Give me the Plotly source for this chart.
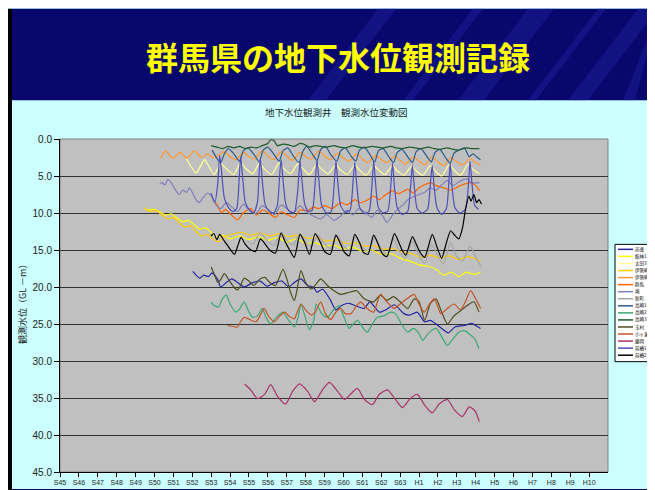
import plotly.graph_objects as go

# ---------------- data (decimal year, depth GL -m) ----------------
year_ticks = list(range(1970, 1999))
tick_labels = ["S45", "S46", "S47", "S48", "S49", "S50", "S51", "S52", "S53", "S54",
               "S55", "S56", "S57", "S58", "S59", "S60", "S61", "S62", "S63",
               "H1", "H2", "H3", "H4", "H5", "H6", "H7", "H8", "H9", "H10"]

series_names = ["邑楽", "館林1号", "太田3号", "伊勢崎1号", "伊勢崎2号", "群馬", "境", "新町",
                "高崎1号", "高崎2号", "高崎3号", "玉村", "小ヶ瀬", "藤岡", "前橋1号", "前橋2号"]
series_colors = ["#2525A0", "#FFFF00", "#FFFF99", "#FFCC00", "#FF9933", "#FF6600", "#8080B8", "#A6A6A6",
                 "#2E5C8A", "#3DA876", "#1E5C2E", "#4D4D1F", "#C0562A", "#A83368", "#4F4FB8", "#000000"]

t_ora = [1977.03, 1977.2, 1977.4, 1977.6, 1977.85, 1978.05, 1978.35, 1978.5, 1978.8, 1979.1, 1979.4, 1979.75,
         1980.2, 1980.6, 1980.95, 1981.35, 1981.75, 1982.1, 1982.4, 1982.75, 1983.1, 1983.4, 1983.6, 1983.9,
         1984.3, 1984.6, 1984.9, 1985.3, 1985.7, 1986.1, 1986.4, 1986.9, 1987.3, 1987.7, 1988.2, 1988.5,
         1988.9, 1989.3, 1989.6, 1990.3, 1990.55, 1990.9, 1991.4, 1991.8, 1992.0, 1992.25]
v_ora = [17.9, 18.4, 18.8, 18.4, 18.6, 18.1, 19.0, 20.0, 19.4, 18.9, 19.4, 20.0,
         19.4, 19.2, 19.9, 19.4, 19.2, 20.0, 19.4, 18.9, 19.8, 20.0, 20.7, 20.3,
         21.7, 23.1, 22.5, 22.2, 22.6, 22.9, 22.0, 23.4, 23.0, 22.4, 23.6, 23.8,
         23.4, 24.7, 24.5, 25.8, 26.2, 25.4, 25.2, 24.9, 25.2, 25.6]

t_tate1 = [1974.45, 1974.7, 1975.0, 1975.3, 1975.6, 1975.9, 1976.2, 1976.5, 1976.8, 1977.1, 1977.4, 1977.7,
           1978.0, 1978.3, 1978.6, 1979.0, 1979.5, 1980.0, 1980.5, 1981.0, 1981.5, 1982.0, 1982.5, 1983.0,
           1983.5, 1984.0, 1984.5, 1985.0, 1985.5, 1986.0, 1986.5, 1987.0, 1987.5, 1988.0, 1988.5, 1989.0,
           1989.5, 1989.9, 1990.3, 1990.7, 1991.1, 1991.5, 1991.9, 1992.25]
v_tate1 = [9.4, 9.6, 9.5, 9.9, 10.3, 10.1, 10.7, 11.2, 11.0, 11.6, 12.2, 12.0,
           12.6, 13.3, 13.0, 13.5, 13.1, 13.6, 13.2, 13.7, 13.3, 13.9, 13.5, 14.1,
           14.0, 14.5, 14.3, 14.9, 14.6, 15.2, 15.0, 15.6, 15.5, 16.1, 16.5, 17.0,
           17.2, 17.6, 18.4, 18.0, 18.6, 18.0, 18.3, 18.0]

t_ota3 = [1976.67, 1976.9, 1977.2, 1977.45, 1977.65, 1977.9, 1978.17, 1978.5, 1978.75, 1979.2, 1979.55, 1979.8,
          1980.2, 1980.55, 1980.8, 1981.2, 1981.6, 1981.85, 1982.2, 1982.6, 1982.85, 1983.2, 1983.6, 1983.85,
          1984.2, 1984.6, 1984.85, 1985.2, 1985.6, 1985.85, 1986.2, 1986.6, 1986.85, 1987.2, 1987.6, 1987.85,
          1988.2, 1988.6, 1988.85, 1989.2, 1989.6, 1989.85, 1990.2, 1990.6, 1990.85, 1991.2, 1991.6, 1991.85, 1992.2]
v_ota3 = [2.6, 3.6, 4.6, 3.6, 2.8, 3.8, 4.8, 3.3, 3.9, 4.8, 3.2, 3.9,
          4.7, 3.3, 4.0, 4.8, 3.2, 4.0, 4.7, 3.3, 4.0, 4.8, 3.4, 4.1,
          4.7, 3.5, 4.2, 4.8, 3.5, 4.2, 4.9, 3.6, 4.2, 4.8, 3.6, 4.3,
          4.9, 3.7, 4.3, 4.9, 3.6, 4.3, 5.0, 3.5, 4.2, 4.9, 3.4, 4.1, 4.7]

t_ise1 = [1974.45, 1974.75, 1975.1, 1975.4, 1975.7, 1976.0, 1976.3, 1976.6, 1976.9, 1977.2, 1977.5, 1977.8,
          1978.1, 1978.4, 1978.7, 1979.1, 1979.6, 1980.1, 1980.6, 1981.1, 1981.6, 1982.1, 1982.6, 1983.1,
          1983.6, 1984.1, 1984.6, 1985.1, 1985.6, 1986.1, 1986.6, 1987.1, 1987.6, 1988.1, 1988.6, 1989.1,
          1989.6, 1990.1, 1990.6, 1991.1, 1991.6, 1992.25]
v_ise1 = [9.3, 9.8, 9.7, 10.3, 10.8, 10.6, 11.3, 11.9, 11.7, 12.5, 13.1, 12.9,
          13.5, 13.9, 13.2, 12.9, 12.6, 13.0, 12.7, 13.1, 12.8, 13.2, 13.0, 13.4,
          13.3, 13.8, 13.6, 14.1, 14.0, 14.5, 14.4, 14.9, 14.8, 15.3, 15.5, 16.0,
          15.7, 16.1, 15.8, 16.3, 15.9, 16.5]

t_ise2 = [1975.3, 1975.6, 1975.85, 1976.0, 1976.35, 1976.7, 1977.1, 1977.5, 1977.8, 1978.1, 1978.4, 1978.7,
          1979.0, 1979.3, 1979.7, 1980.0, 1980.3, 1980.7, 1981.0, 1981.3, 1981.7, 1982.0, 1982.3, 1982.7,
          1983.0, 1983.3, 1983.7, 1984.0, 1984.3, 1984.7, 1985.0, 1985.3, 1985.7, 1986.0, 1986.3, 1986.7,
          1987.0, 1987.3, 1987.7, 1988.0, 1988.3, 1988.7, 1989.0, 1989.3, 1989.7, 1990.0, 1990.3, 1990.7,
          1991.0, 1991.3, 1991.7, 1992.0, 1992.25]
v_ise2 = [2.6, 1.6, 2.4, 2.6, 1.8, 2.6, 1.6, 2.5, 2.0, 2.5, 2.2, 1.7,
          2.4, 2.8, 1.8, 2.4, 2.7, 1.6, 2.3, 2.8, 1.7, 2.3, 2.9, 1.8,
          2.4, 2.7, 1.6, 2.3, 2.8, 1.9, 2.6, 3.0, 2.0, 2.7, 3.2, 2.2,
          2.8, 3.2, 2.3, 2.9, 3.4, 2.4, 3.0, 3.5, 2.4, 3.1, 3.6, 2.5,
          3.1, 3.5, 2.6, 3.2, 3.5]

t_gunma = [1978.1, 1978.3, 1978.55, 1978.75, 1979.0, 1979.4, 1979.7, 1980.1, 1980.4, 1980.7, 1981.0, 1981.4,
           1981.7, 1982.0, 1982.4, 1982.7, 1983.1, 1983.4, 1983.7, 1984.0, 1984.4, 1984.85, 1985.2, 1985.6,
           1985.9, 1986.3, 1986.6, 1986.9, 1987.2, 1987.6, 1987.9, 1988.4, 1988.7, 1989.0, 1989.6, 1989.9,
           1990.3, 1990.7, 1991.1, 1991.7, 1992.0, 1992.2]
v_gunma = [8.3, 8.8, 10.0, 9.5, 10.1, 10.9, 10.0, 9.4, 10.3, 9.6, 9.9, 10.6,
           9.8, 10.2, 10.6, 9.6, 9.7, 9.2, 9.4, 9.0, 9.4, 8.6, 8.9, 8.2,
           8.6, 8.2, 7.7, 8.2, 7.6, 7.0, 7.4, 6.8, 7.3, 6.6, 5.9, 6.3,
           6.6, 6.9, 6.4, 5.9, 6.3, 7.0]

t_sakai = [1975.27, 1975.4, 1975.55, 1975.7, 1975.85, 1976.0, 1976.3, 1976.5, 1976.7, 1976.85, 1977.2, 1977.35,
           1977.55, 1977.8, 1978.0, 1978.2, 1978.5, 1978.8, 1979.1, 1979.4, 1979.7, 1980.0, 1980.35, 1980.7,
           1981.0, 1981.35, 1981.7, 1982.0, 1982.35, 1982.7, 1983.0, 1983.4, 1983.8, 1984.1, 1984.5, 1984.85,
           1985.2, 1985.5, 1985.8, 1986.2, 1986.5, 1986.8, 1987.1, 1987.3, 1987.6, 1987.9, 1988.2, 1988.4,
           1988.7, 1989.0, 1989.3, 1989.6, 1989.9, 1990.2, 1990.5, 1990.8, 1991.1, 1991.5, 1991.8, 1992.2]
v_sakai = [6.1, 5.9, 6.2, 5.5, 5.8, 6.4, 7.5, 6.9, 7.2, 6.6, 8.2, 8.6,
           8.0, 7.3, 7.7, 8.7, 9.4, 8.6, 9.2, 9.8, 8.8, 9.6, 10.1, 9.0,
           9.5, 10.2, 8.9, 9.4, 10.0, 9.0, 9.8, 10.4, 10.8, 10.2, 11.0, 10.4,
           9.6, 10.3, 9.4, 10.0, 10.6, 9.6, 10.5, 11.3, 10.3, 9.4, 8.8, 8.2,
           7.8, 7.5, 7.2, 6.6, 6.9, 6.2, 5.6, 6.3, 5.8, 5.4, 5.9, 5.9]

t_shinmachi = [1979.9, 1980.2, 1980.6, 1980.9, 1981.3, 1981.7, 1982.0, 1982.35, 1982.7, 1983.0, 1983.3, 1983.65,
               1984.0, 1984.3, 1984.65, 1985.0, 1985.3, 1985.65, 1986.0, 1986.3, 1986.65, 1987.0, 1987.3, 1987.65,
               1987.9, 1988.25, 1988.65, 1988.95, 1989.3, 1989.65, 1990.0, 1990.3, 1990.65, 1991.0, 1991.3, 1991.7,
               1992.0, 1992.3]
v_shinmachi = [13.8, 14.2, 12.7, 13.6, 14.4, 12.6, 13.7, 14.3, 12.8, 13.9, 14.6, 13.0,
               14.2, 14.8, 13.0, 14.4, 15.0, 13.2, 14.6, 15.2, 13.3, 14.8, 15.8, 13.5,
               14.9, 16.2, 13.8, 15.5, 16.8, 14.2, 15.8, 16.9, 14.0, 15.9, 16.5, 14.5,
               16.0, 17.3]

t_taka1 = [1978.05, 1978.3, 1978.5, 1978.7, 1978.9, 1979.2, 1979.5, 1979.7, 1979.95, 1980.3, 1980.55, 1980.75,
           1981.0, 1981.3, 1981.6, 1981.8, 1982.05, 1982.35, 1982.65, 1982.85, 1983.05, 1983.35, 1983.6, 1983.8,
           1984.05, 1984.35, 1984.65, 1984.85, 1985.1, 1985.4, 1985.65, 1985.85, 1986.1, 1986.4, 1986.65, 1986.85,
           1987.1, 1987.4, 1987.65, 1987.85, 1988.1, 1988.4, 1988.65, 1988.85, 1989.1, 1989.4, 1989.65, 1989.85,
           1990.1, 1990.4, 1990.65, 1990.85, 1991.1, 1991.4, 1991.65, 1991.85, 1992.05, 1992.25]
v_taka1 = [1.5, 2.6, 3.2, 2.0, 1.3, 2.0, 3.0, 1.6, 1.2, 2.2, 3.1, 1.5,
           1.1, 2.0, 3.0, 1.6, 1.2, 2.3, 3.2, 1.7, 1.0, 2.0, 2.9, 1.4,
           1.0, 2.2, 3.0, 1.6, 1.2, 2.3, 3.0, 1.5, 1.1, 2.1, 3.1, 1.6,
           1.3, 2.4, 3.2, 1.8, 1.4, 2.4, 3.2, 1.7, 1.3, 2.3, 3.1, 1.8,
           1.4, 2.5, 3.3, 1.9, 1.5, 1.2, 2.4, 2.0, 2.4, 2.8]

t_taka2 = [1978.0, 1978.15, 1978.4, 1978.55, 1978.8, 1979.0, 1979.3, 1979.5, 1979.75, 1980.0, 1980.2, 1980.45,
           1980.7, 1980.9, 1981.15, 1981.45, 1981.8, 1982.05, 1982.4, 1982.6, 1982.75, 1983.0, 1983.2, 1983.45,
           1983.55, 1983.85, 1984.15, 1984.5, 1984.77, 1985.0, 1985.3, 1985.55, 1985.75, 1986.05, 1986.27, 1986.55,
           1986.8, 1987.15, 1987.5, 1987.75, 1988.05, 1988.4, 1988.7, 1988.95, 1989.2, 1989.55, 1989.9, 1990.15,
           1990.5, 1990.8, 1991.1, 1991.4, 1991.73, 1991.95, 1992.17]
v_taka2 = [22.0, 22.5, 22.7, 21.8, 21.1, 22.3, 23.4, 23.0, 22.0, 23.4, 24.1, 23.9,
           22.9, 24.1, 25.0, 24.1, 23.4, 24.3, 25.4, 24.1, 22.3, 24.3, 25.8, 24.3,
           22.3, 23.6, 24.1, 23.0, 22.5, 23.9, 25.6, 24.9, 24.5, 25.6, 26.1, 24.9,
           24.1, 23.9, 23.4, 23.6, 24.9, 26.1, 25.6, 26.1, 27.2, 26.1, 25.6, 26.5,
           27.9, 27.0, 26.1, 25.9, 26.5, 27.0, 28.3]

t_taka3 = [1978.0, 1978.3, 1978.6, 1978.9, 1979.2, 1979.5, 1979.8, 1980.1, 1980.4, 1980.7, 1981.0, 1981.15,
           1981.35, 1981.5, 1981.8, 1982.1, 1982.4, 1982.7, 1982.9, 1983.2, 1983.5, 1983.8, 1984.1, 1984.5,
           1984.8, 1985.1, 1985.5, 1985.8, 1986.1, 1986.5, 1986.8, 1987.1, 1987.5, 1987.8, 1988.1, 1988.5,
           1988.8, 1989.1, 1989.5, 1989.8, 1990.1, 1990.5, 1990.8, 1991.1, 1991.5, 1991.8, 1992.2]
v_taka3 = [0.9, 1.1, 1.3, 1.0, 1.2, 1.0, 1.3, 1.1, 1.2, 0.9, 0.6, 0.1,
           0.3, 0.9, 0.7, 0.8, 1.0, 0.6, 0.7, 1.1, 0.9, 1.0, 1.1, 0.9,
           1.1, 1.2, 0.9, 1.1, 1.2, 1.0, 1.1, 1.2, 1.0, 1.2, 1.3, 1.1,
           1.2, 1.3, 1.1, 1.3, 1.4, 1.2, 1.4, 1.5, 1.2, 1.3, 1.3]

t_tamamura = [1978.0, 1978.2, 1978.35, 1978.5, 1978.7, 1978.95, 1979.2, 1979.4, 1979.55, 1979.75, 1980.0, 1980.25,
              1980.6, 1980.85, 1981.1, 1981.4, 1981.8, 1982.0, 1982.2, 1982.4, 1982.55, 1982.75, 1983.0, 1983.3,
              1983.55, 1983.8, 1984.15, 1984.5, 1984.85, 1985.2, 1985.7, 1986.1, 1986.6, 1986.95, 1987.3, 1987.65,
              1988.0, 1988.4, 1988.75, 1989.0, 1989.3, 1989.6, 1989.9, 1990.2, 1990.5, 1990.85, 1991.2, 1991.55,
              1991.9, 1992.17]
v_tamamura = [17.3, 18.5, 19.4, 19.0, 18.2, 19.1, 20.0, 20.4, 19.8, 18.8, 19.2, 19.8,
              18.9, 18.7, 19.4, 19.8, 17.6, 18.9, 20.7, 21.8, 20.3, 17.8, 19.4, 20.3,
              19.6, 18.9, 19.8, 20.5, 21.0, 20.8, 20.5, 21.6, 22.0, 21.1, 21.8, 21.3,
              22.0, 22.9, 21.6, 22.0, 24.5, 22.2, 21.6, 23.4, 25.0, 23.9, 23.2, 22.5,
              22.0, 23.4]

t_ogase = [1978.87, 1979.1, 1979.4, 1979.55, 1979.75, 1980.05, 1980.37, 1980.6, 1980.8, 1981.05, 1981.35, 1981.6,
           1981.9, 1982.15, 1982.4, 1982.55, 1982.75, 1983.0, 1983.3, 1983.5, 1983.8, 1984.05, 1984.33, 1984.6,
           1984.85, 1985.1, 1985.4, 1985.65, 1985.9, 1986.25, 1986.6, 1986.8, 1986.97, 1987.3, 1987.68, 1988.0,
           1988.35, 1988.74, 1989.0, 1989.27, 1989.55, 1989.8, 1990.0, 1990.15, 1990.5, 1990.85, 1991.2, 1991.45,
           1991.73, 1992.0, 1992.26]
v_ogase = [25.2, 25.3, 25.4, 24.7, 24.1, 24.4, 24.7, 23.8, 22.9, 24.0, 24.7, 24.0,
           23.4, 24.0, 24.3, 23.4, 22.3, 23.1, 23.8, 23.4, 22.0, 23.6, 24.4, 23.4,
           22.9, 23.6, 23.6, 22.7, 22.0, 22.9, 23.4, 22.0, 21.0, 22.0, 22.9, 22.3,
           21.6, 21.0, 22.3, 23.4, 22.3, 21.6, 22.7, 23.6, 22.9, 22.3, 23.1, 22.0,
           20.5, 21.6, 22.9]

t_fujioka = [1979.77, 1980.09, 1980.46, 1980.83, 1981.15, 1981.52, 1981.94, 1982.31, 1982.68, 1983.1, 1983.47, 1983.89,
             1984.26, 1984.69, 1985.06, 1985.37, 1985.74, 1986.11, 1986.53, 1986.9, 1987.33, 1987.75, 1988.12, 1988.49,
             1988.91, 1989.28, 1989.7, 1990.07, 1990.5, 1990.87, 1991.29, 1991.66, 1991.98, 1992.19]
v_fujioka = [33.1, 33.9, 35.1, 34.5, 33.2, 34.8, 35.8, 34.1, 33.1, 34.1, 35.5, 33.9,
             32.9, 34.1, 35.2, 34.5, 33.7, 35.2, 35.9, 34.5, 33.9, 35.2, 36.3, 35.2,
             34.5, 35.9, 37.0, 35.8, 35.2, 36.6, 37.5, 36.2, 36.8, 38.2]

t_mae1 = [1977.98, 1978.2, 1978.35, 1978.45, 1978.55, 1978.7, 1978.9, 1979.15, 1979.35, 1979.48, 1979.56, 1979.66,
          1979.8, 1980.0, 1980.25, 1980.45, 1980.53, 1980.6, 1980.7, 1980.85, 1981.05, 1981.3, 1981.5, 1981.62,
          1981.7, 1981.8, 1981.95, 1982.15, 1982.4, 1982.58, 1982.7, 1982.8, 1982.95, 1983.15, 1983.35, 1983.5,
          1983.6, 1983.7, 1983.85, 1984.1, 1984.35, 1984.5, 1984.6, 1984.7, 1984.85, 1985.1, 1985.35, 1985.5,
          1985.6, 1985.7, 1985.85, 1986.1, 1986.35, 1986.5, 1986.6, 1986.7, 1986.85, 1987.1, 1987.35, 1987.5,
          1987.6, 1987.7, 1987.85, 1988.1, 1988.4, 1988.55, 1988.65, 1988.75, 1988.9, 1989.15, 1989.45, 1989.6,
          1989.7, 1989.8, 1989.95, 1990.2, 1990.45, 1990.57, 1990.65, 1990.75, 1990.9, 1991.15, 1991.45, 1991.62,
          1991.7, 1991.8, 1991.95, 1992.15]
v_mae1 = [7.3, 8.5, 6.0, 2.2, 4.5, 8.0, 9.2, 9.8, 9.4, 5.5, 2.4, 5.0,
          8.5, 9.5, 10.0, 8.5, 5.0, 2.6, 5.5, 8.8, 9.7, 10.0, 9.0, 5.0,
          2.8, 5.5, 8.8, 9.8, 9.9, 7.0, 3.0, 5.5, 8.8, 9.8, 9.6, 6.0,
          2.8, 5.5, 9.0, 10.0, 9.8, 6.5, 3.0, 5.8, 9.0, 9.9, 9.6, 6.0,
          3.2, 6.0, 9.2, 10.1, 9.8, 6.5, 3.0, 6.0, 9.3, 10.0, 9.7, 6.5,
          3.3, 6.5, 9.3, 10.2, 9.8, 6.5, 3.6, 6.5, 9.4, 10.0, 9.5, 6.0,
          3.6, 6.5, 9.3, 10.2, 9.4, 6.2, 3.3, 6.5, 9.3, 10.0, 9.5, 6.0,
          3.0, 6.0, 9.0, 9.5]

t_mae2 = [1977.99, 1978.15, 1978.3, 1978.45, 1978.7, 1978.9, 1979.23, 1979.4, 1979.58, 1979.8, 1980.05, 1980.35,
          1980.6, 1980.8, 1981.1, 1981.4, 1981.7, 1981.9, 1982.15, 1982.4, 1982.7, 1982.95, 1983.2, 1983.5,
          1983.75, 1984.0, 1984.3, 1984.6, 1984.85, 1985.05, 1985.3, 1985.6, 1985.85, 1986.05, 1986.3, 1986.6,
          1986.85, 1987.05, 1987.3, 1987.7, 1987.95, 1988.1, 1988.3, 1988.65, 1988.9, 1989.1, 1989.3, 1989.7,
          1989.95, 1990.2, 1990.45, 1990.67, 1990.85, 1991.1, 1991.3, 1991.46, 1991.64, 1991.75, 1991.9, 1992.05,
          1992.17, 1992.3]
v_mae2 = [13.1, 12.8, 13.6, 12.9, 13.8, 14.5, 15.6, 14.5, 13.3, 14.2, 14.9, 15.2,
          13.5, 14.0, 15.0, 15.4, 12.7, 13.8, 15.0, 16.0, 12.9, 14.0, 15.6, 12.8,
          13.8, 15.2, 15.6, 13.0, 14.2, 15.3, 15.8, 12.9, 14.0, 15.3, 15.6, 13.0,
          14.3, 15.5, 15.9, 12.8, 14.1, 15.0, 15.7, 13.2, 14.5, 15.5, 16.0, 12.9,
          14.6, 16.1, 14.0, 12.4, 12.9, 13.5, 12.0, 9.5, 7.7, 8.4, 7.5, 8.6,
          8.2, 8.8]

series_t = [t_ora, t_tate1, t_ota3, t_ise1, t_ise2, t_gunma, t_sakai, t_shinmachi,
            t_taka1, t_taka2, t_taka3, t_tamamura, t_ogase, t_fujioka, t_mae1, t_mae2]
series_v = [v_ora, v_tate1, v_ota3, v_ise1, v_ise2, v_gunma, v_sakai, v_shinmachi,
            v_taka1, v_taka2, v_taka3, v_tamamura, v_ogase, v_fujioka, v_mae1, v_mae2]

y_ticks = [0, 5, 10, 15, 20, 25, 30, 35, 40, 45]

# ---------------- layout helpers ----------------
W, H = 655, 490
ML, MR, MT, MB = 52, 55, 131, 24
PW, PH = W - ML - MR, H - MT - MB


def fx(px):
    return (px - ML) / PW


def fy(py):
    return (H - MB - py) / PH


JP = "Noto Sans CJK JP"
fig = go.Figure()

for name, col, t, v in zip(series_names, series_colors, series_t, series_v):
    fig.add_trace(go.Scatter(x=t, y=v, mode="lines", name=name, showlegend=False,
                             line=dict(color=col, width=1.2, shape="spline", smoothing=0.6)))

shapes = []
# frame / header decoration
shapes.append(dict(type="rect", xref="paper", yref="paper", x0=fx(0), x1=fx(4), y0=fy(490), y1=fy(0),
                   fillcolor="#000000", line=dict(width=0), layer="below"))
shapes.append(dict(type="rect", xref="paper", yref="paper", x0=fx(651), x1=fx(655), y0=fy(490), y1=fy(0),
                   fillcolor="#000000", line=dict(width=0), layer="below"))
shapes.append(dict(type="rect", xref="paper", yref="paper", x0=fx(4), x1=fx(651), y0=fy(92), y1=fy(0),
                   fillcolor="#07076E", line=dict(width=0), layer="below"))
for bx, w in [(300, 18), (395, 10), (450, 26), (520, 8), (560, 20), (615, 12)]:
    path = "M {:.4f},{:.4f} L {:.4f},{:.4f} L {:.4f},{:.4f} L {:.4f},{:.4f} Z".format(
        fx(bx), fy(92), fx(bx + w), fy(92), fx(min(bx + w + 70, 651)), fy(0), fx(min(bx + 70, 651)), fy(0))
    shapes.append(dict(type="path", xref="paper", yref="paper", path=path,
                       fillcolor="rgba(40,40,170,0.35)", line=dict(width=0), layer="below"))
shapes.append(dict(type="rect", xref="paper", yref="paper", x0=fx(4), x1=fx(651), y0=fy(490), y1=fy(483),
                   fillcolor="#07076E", line=dict(width=0), layer="below"))
# plot frame (top/right)
shapes.append(dict(type="rect", xref="paper", yref="paper", x0=0, x1=1, y0=0, y1=1,
                   fillcolor="rgba(0,0,0,0)", line=dict(color="#808080", width=1), layer="below"))

annotations = []
annotations.append(dict(text="<b>群馬県の地下水位観測記録</b>", xref="paper", yref="paper",
                        x=fx(330), y=fy(47), xanchor="center", yanchor="middle", showarrow=False,
                        font=dict(family=JP, size=32, color="#FFFF00")))
annotations.append(dict(text="地下水位観測井　観測水位変動図", xref="paper", yref="paper",
                        x=fx(328), y=fy(104), xanchor="center", yanchor="middle", showarrow=False,
                        font=dict(family=JP, size=9.5, color="#1A1A1A")))
annotations.append(dict(text="観測水位（GL －m）", xref="paper", yref="paper",
                        x=fx(14), y=fy(295), xanchor="center", yanchor="middle", showarrow=False,
                        textangle=-90, font=dict(family=JP, size=9, color="#1A1A1A")))

# legend box (hand-built, compact like the original)
shapes.append(dict(type="rect", xref="paper", yref="paper", x0=fx(607), x1=fx(650), y0=fy(355), y1=fy(237),
                   fillcolor="#FFFFFF", line=dict(color="#000000", width=1), layer="above"))
for i, (name, col) in enumerate(zip(series_names, series_colors)):
    yy = 242 + i * 7.1
    shapes.append(dict(type="line", xref="paper", yref="paper", x0=fx(610), x1=fx(625), y0=fy(yy), y1=fy(yy),
                       line=dict(color=col, width=1.5), layer="above"))
    annotations.append(dict(text=name, xref="paper", yref="paper", x=fx(625.5), y=fy(yy),
                            xanchor="left", yanchor="middle", showarrow=False, borderpad=0,
                            font=dict(family=JP, size=4.5, color="#000000")))

fig.update_layout(
    width=W, height=H, autosize=False,
    margin=dict(l=ML, r=MR, t=MT, b=MB, pad=0),
    paper_bgcolor="#CCFFFF", plot_bgcolor="#C0C0C0",
    shapes=shapes, annotations=annotations, showlegend=False,
    xaxis=dict(range=[1970, 1999], tickmode="array", tickvals=year_ticks, ticktext=tick_labels,
               ticks="outside", ticklen=4, tickcolor="#000000", showline=True, linecolor="#000000",
               linewidth=1, showgrid=False, zeroline=False,
               tickfont=dict(family="Liberation Sans", size=7, color="#222222")),
    yaxis=dict(range=[45, 0], tickmode="array", tickvals=y_ticks, tickformat=".1f",
               ticks="outside", ticklen=5, tickcolor="#000000", showline=True, linecolor="#000000",
               linewidth=1, showgrid=True, gridcolor="#333333", gridwidth=1, zeroline=False,
               tickfont=dict(family="Liberation Sans", size=10, color="#222222")),
)

fig.write_html("out.html")
